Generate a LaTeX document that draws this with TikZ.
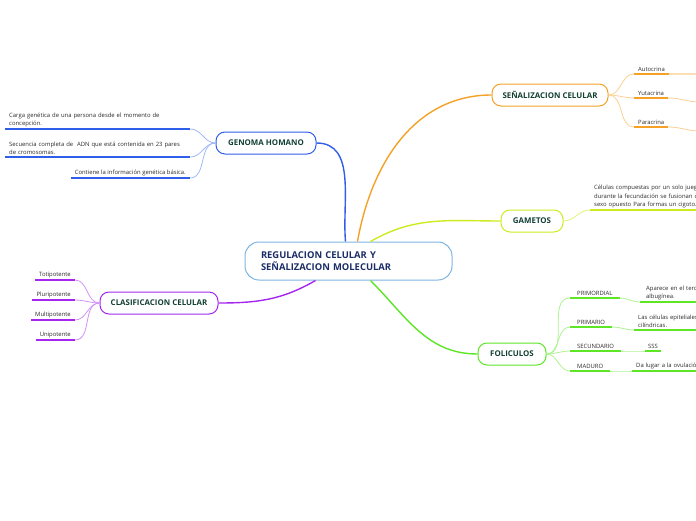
\documentclass[tikz,border=0pt]{standalone}
\usepackage{fontspec}
\setmainfont{Open Sans}
\usetikzlibrary{positioning}

\definecolor{cblue}{HTML}{2F5EEA}
\definecolor{corange}{HTML}{F5A128}
\definecolor{cyellow}{HTML}{CDEB1E}
\definecolor{cgreen}{HTML}{5CE626}
\definecolor{cpurple}{HTML}{A526EE}
\definecolor{cframe}{HTML}{7DB4E0}
\definecolor{nodetext}{HTML}{123F33}
\definecolor{centertext}{HTML}{1B2D66}
\definecolor{leaftext}{HTML}{2B2B2B}

\begin{document}
\begin{tikzpicture}[x=1pt, y=-1pt,
  topic/.style={draw=#1, line width=1pt, rounded corners=9pt, minimum height=22pt,
    inner xsep=8pt, text=nodetext, font=\fontsize{7.9}{9}\selectfont\bfseries},
  leaf/.style={inner xsep=4pt, inner ysep=2pt, text=leaftext, align=left,
    font=\fontsize{5.9}{8.3}\selectfont},
  ul/.style={line width=1.8pt},
  twig/.style={line width=0.8pt},
  link/.style={line width=1.4pt}]
\clip (0,0) rectangle (696,520);

% central topic
\node[draw=cframe, line width=1pt, rounded corners=14pt, minimum height=38pt,
  inner xsep=16pt, text width=175pt, align=left, text=centertext,
  font=\fontsize{9.4}{12.5}\selectfont\bfseries] (reg) at (348.5,261)
  {REGULACION CELULAR Y\\SEÑALIZACION MOLECULAR};

% main topics
\node[topic=cblue, minimum width=100pt] (gen) at (266,143) {GENOMA HOMANO};
\node[topic=corange, minimum width=116pt] (sig) at (550,95) {SEÑALIZACION CELULAR};
\node[topic=cyellow, minimum width=62pt] (gam) at (532,221) {GAMETOS};
\node[topic=cgreen, minimum width=68pt] (fol) at (512,354) {FOLICULOS};
\node[topic=cpurple, minimum width=118pt] (cla) at (159,303) {CLASIFICACION CELULAR};

\draw[link, cblue] (gen.east) to[out=0, in=95] ([xshift=-3pt]reg.north);
\draw[link, corange] ([xshift=9pt]reg.north) to[out=80, in=180] (sig.west);
\draw[link, cyellow] ([xshift=22pt]reg.north) to[out=30, in=180] (gam.west);
\draw[link, cgreen] ([xshift=22pt]reg.south) to[out=-45, in=180] (fol.west);
\draw[link, cpurple] ([xshift=-33pt]reg.south) to[out=210, in=0] (cla.east);

% GENOMA HOMANO
\node[leaf, anchor=south west, text width=177pt] (g1) at (5,129)
  {Carga genética de una persona desde el momento de\\concepción.};
\node[leaf, anchor=south west, text width=177pt] (g2) at (5,157)
  {Secuencia completa de \ ADN que está contenida en 23 pares\\de cromosomas.};
\node[leaf, anchor=south east] (g3) at (190,178) {Contiene la información genética básica.};
\foreach \n in {g1,g2,g3} {
  \draw[ul, cblue] (\n.south west) -- (\n.south east);
  \draw[twig, cblue!45] (gen.west) to[out=180, in=0] (\n.south east);
}

% SEÑALIZACION CELULAR
\node[leaf, anchor=south west] (s1) at (634,74) {Autocrina};
\node[leaf, anchor=south west] (s2) at (634,98) {Yutacrina};
\node[leaf, anchor=south west] (s3) at (634,127) {Paracrina};
\coordinate (s1x) at (700,74);
\coordinate (s2x) at (700,102);
\coordinate (s3x) at (700,131);
\foreach \n in {s1,s2,s3} {
  \draw[ul, corange] (\n.south west) -- (\n.south east);
  \draw[twig, corange!50] (sig.east) to[out=0, in=180] (\n.south west);
  \draw[twig, corange!50] (\n.south east) to[out=0, in=180] (\n x);
}
\draw[ul, corange!35] (s1.south east) -- (s1x);

% GAMETOS
\node[leaf, anchor=south west, text width=140pt] (m1) at (590,210)
  {Células compuestas por un solo juego de\\durante la fecundación se fusionan con\\sexo opuesto Para formas un cigoto.};
\draw[ul, cyellow] (m1.south west) -- (m1.south east);
\draw[twig, cyellow!60] (gam.east) to[out=0, in=180] (m1.south west);

% FOLICULOS
\node[leaf, anchor=south west, inner xsep=7pt] (f1) at (570,298) {PRIMORDIAL};
\node[leaf, anchor=south west, inner xsep=7pt] (f2) at (570,327) {PRIMARIO};
\node[leaf, anchor=south west, inner xsep=7pt] (f3) at (570,351) {SECUNDARIO};
\node[leaf, anchor=south west, inner xsep=7pt] (f4) at (570,371) {MADURO};
\node[leaf, anchor=south west, inner xsep=6pt, text width=90pt] (f1a) at (640,302)
  {Aparece en el tercer\\albugínea.};
\node[leaf, anchor=south west, text width=90pt] (f2a) at (634,330)
  {Las células epiteliales\\cilíndricas.};
\node[leaf, anchor=south west, inner xsep=3pt] (f3a) at (645,351) {SSS};
\node[leaf, anchor=south west, text width=90pt] (f4a) at (632,371) {Da lugar a la ovulación};
\foreach \n in {f1,f2,f3,f4} {
  \draw[ul, cgreen] (\n.south west) -- (\n.south east);
  \draw[ul, cgreen] (\n a.south west) -- (\n a.south east);
  \draw[twig, cgreen!50] (fol.east) to[out=0, in=180] (\n.south west);
  \draw[twig, cgreen!50] (\n.south east) to[out=0, in=180] (\n a.south west);
}

% CLASIFICACION CELULAR
\node[leaf, anchor=south east] (c1) at (75,280) {Totipotente};
\node[leaf, anchor=south east] (c2) at (75,300) {Pluripotente};
\node[leaf, anchor=south east] (c3) at (75,320) {Multipotente};
\node[leaf, anchor=south east] (c4) at (75,340) {Unipotente};
\foreach \n in {c1,c2,c3,c4} {
  \draw[ul, cpurple] (\n.south west) -- (\n.south east);
  \draw[twig, cpurple!50] (cla.west) to[out=180, in=0] (\n.south east);
}
\end{tikzpicture}
\end{document}
